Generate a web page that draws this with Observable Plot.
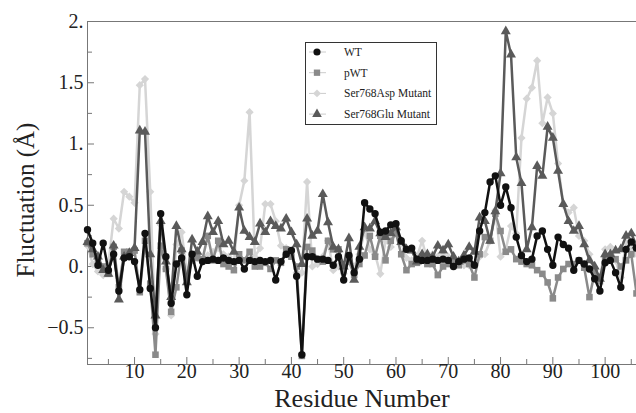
<!DOCTYPE html>
<html><head><meta charset="utf-8">
<script src="https://cdn.jsdelivr.net/npm/d3@7"></script>
<script src="https://cdn.jsdelivr.net/npm/@observablehq/plot@0.6"></script>
<style>body{margin:0;background:#fff} #chart{position:relative;width:636px;height:413px;overflow:hidden}</style>
</head><body><div id="chart"></div>
<script>
const residues = d3.range(1, 107);
const seriesNames = ["WT", "pWT", "Ser768Asp Mutant", "Ser768Glu Mutant"];
const wt = [0.30,0.19,0.01,0.19,-0.03,0.10,-0.20,0.07,0.08,0.04,
 -0.19,0.27,-0.18,-0.50,0.43,0.08,-0.30,0.02,0.07,-0.23,
 0.10,-0.08,0.04,0.05,0.06,0.05,0.07,0.05,0.04,0.05,
 -0.02,0.05,0.04,0.05,0.04,0.05,-0.11,0.04,0.10,0.13,
 -0.08,-0.72,0.08,0.08,0.06,0.06,0.05,0.01,0.08,-0.11,
 0.09,-0.05,0.06,0.52,0.47,0.43,0.28,0.29,0.34,0.35,
 0.21,0.14,0.15,0.06,0.05,0.05,0.06,0.05,0.06,0.05,
 0.00,0.04,0.06,0.07,0.01,0.29,0.44,0.69,0.74,0.50,
 0.65,0.48,0.24,0.09,0.04,0.06,0.25,0.29,0.14,0.01,
 0.24,0.18,0.15,-0.03,0.05,0.02,-0.02,-0.10,-0.20,0.03,
 0.05,-0.05,-0.17,0.14,0.20,0.15];
const pwt = [0.19,0.10,0.06,0.00,-0.06,0.16,-0.17,0.12,0.12,0.13,
 -0.21,0.21,-0.14,-0.72,0.17,-0.02,-0.37,-0.17,0.13,-0.11,
 0.05,0.07,0.06,0.25,0.05,0.21,0.02,0.00,-0.03,0.10,
 0.05,0.12,0.00,0.00,0.03,-0.02,0.05,0.03,0.14,0.08,
 0.00,-0.73,0.16,0.13,0.06,0.04,0.21,0.14,0.14,-0.03,
 0.04,-0.07,0.02,0.09,0.25,0.08,0.25,0.05,0.21,0.27,
 0.10,-0.03,0.02,0.03,0.08,0.02,0.02,-0.07,0.00,0.02,
 0.05,0.01,0.05,0.02,-0.09,0.10,0.24,0.21,0.43,0.29,
 0.12,0.14,0.06,0.04,0.02,0.01,-0.03,-0.06,-0.13,-0.26,
 -0.09,-0.02,0.02,0.02,0.05,-0.01,-0.25,-0.05,-0.12,0.05,
 0.07,0.06,0.00,0.05,0.10,-0.22];
const asp = [0.17,0.02,-0.04,-0.07,0.02,0.39,0.31,0.61,0.57,0.52,
 1.48,1.53,0.61,-0.55,0.34,-0.02,-0.40,0.18,0.28,-0.05,
 0.08,0.07,0.05,0.09,0.12,0.15,0.10,0.08,0.03,0.50,
 0.70,1.26,0.08,0.15,0.51,0.51,0.37,0.17,0.15,0.12,
 -0.05,-0.05,0.69,0.00,0.02,0.08,0.21,-0.03,0.00,-0.06,
 0.05,0.00,0.10,0.29,0.14,0.10,-0.06,0.21,0.16,0.29,
 0.20,0.07,0.05,0.08,0.21,0.05,0.10,0.08,0.09,0.08,
 0.05,0.02,0.01,0.01,0.02,0.08,0.10,0.21,0.46,0.08,
 0.14,0.33,0.27,1.05,1.37,1.46,1.68,1.17,1.38,1.25,
 0.84,0.50,0.44,0.48,0.25,0.21,0.10,-0.03,-0.09,0.14,
 0.16,0.05,-0.09,0.20,0.14,0.10];
const glu = [0.20,0.14,0.08,-0.03,-0.06,0.17,-0.27,0.08,0.11,0.15,
 1.11,1.10,0.10,-0.40,0.37,0.04,-0.25,0.33,0.14,-0.13,
 0.22,0.12,0.20,0.41,0.28,0.37,0.18,0.21,0.12,0.48,
 0.29,0.24,0.20,0.35,0.28,0.37,0.33,0.31,0.39,0.28,
 0.18,0.02,0.39,0.25,0.29,0.59,0.36,0.16,0.14,0.00,
 0.23,-0.11,0.16,0.32,0.31,0.37,0.27,0.24,0.27,0.32,
 0.20,0.14,0.13,0.04,0.10,0.10,0.08,0.17,0.13,0.18,
 0.08,0.04,0.09,0.16,0.12,0.40,0.37,0.21,0.45,0.76,
 1.92,1.73,0.89,0.68,0.14,0.32,0.82,0.74,1.14,1.05,
 0.78,0.51,0.37,0.29,0.33,0.18,0.05,0.00,-0.10,0.10,
 0.10,0.13,0.14,0.25,0.27,0.17];
const yTicks = [-0.5, 0, 0.5, 1, 1.5, 2];
const yTickLabels = ["\u22120.5", "0.", "0.5", "1.", "1.5", "2."];
const yMinorTicks = [-0.75, -0.25, 0.25, 0.75, 1.25, 1.75];
const xTicks = [10, 20, 30, 40, 50, 60, 70, 80, 90, 100];
const xMinorTicks = [5, 15, 25, 35, 45, 55, 65, 75, 85, 95, 105];
const xLabel = "Residue Number";
const yLabel = "Fluctuation (\u00C5)";

const colors = {"WT": "#111111", "pWT": "#8a8a8a", "Ser768Asp Mutant": "#d5d5d5", "Ser768Glu Mutant": "#5a5a5a"};
const symbols = {"WT": "circle", "pWT": "square", "Ser768Asp Mutant": "diamond2", "Ser768Glu Mutant": "triangle"};
const values = [wt, pwt, asp, glu];
const table = seriesNames.flatMap((s, k) => residues.map((r, i) => ({residue: r, value: values[k][i], series: s})));
const drawOrder = ["Ser768Asp Mutant", "pWT", "Ser768Glu Mutant", "WT"];

const seriesMarks = drawOrder.flatMap(s => {
  const d = table.filter(t => t.series === s);
  return [
    Plot.line(d, {x: "residue", y: "value", stroke: colors[s], strokeWidth: 2.5}),
    Plot.dot(d, {x: "residue", y: "value", fill: colors[s], symbol: () => symbols[s], r: 3.7, stroke: "none"})
  ];
});

const plot = Plot.plot({
  width: 636, height: 413,
  marginLeft: 87, marginRight: 0, marginTop: 21, marginBottom: 49,
  style: {fontFamily: "'Liberation Serif', 'Times New Roman', serif", fontSize: "20px", color: "#222", background: "#fff"},
  x: {domain: [1, 106]},
  y: {domain: [-0.8, 2]},
  symbol: {type: "identity"},
  marks: [
    Plot.frame({anchor: "left", stroke: "#777"}),
    Plot.frame({anchor: "bottom", stroke: "#777"}),
    Plot.frame({anchor: "top", stroke: "#777"}),
    Plot.axisY(yMinorTicks, {tickSize: -5, text: null, stroke: "#777", label: null}),
    Plot.axisY(yTicks, {tickSize: -7, tickPadding: 11, stroke: "#777", tickFormat: d => yTickLabels[yTicks.indexOf(d)], label: null, fontSize: 20}),
    Plot.axisX(xMinorTicks, {tickSize: -5, text: null, stroke: "#777", label: null}),
    Plot.axisX(xTicks, {tickSize: -7, tickPadding: 6, stroke: "#777", label: null, fontSize: 20}),
    Plot.text([xLabel], {frameAnchor: "bottom", textAnchor: "middle", lineAnchor: "bottom", dy: 42, fontSize: 26, fill: "#222"}),
    Plot.text([yLabel], {frameAnchor: "left", textAnchor: "middle", lineAnchor: "middle", rotate: -90, dx: -62, dy: 7, fontSize: 25, fill: "#222"}),
    ...seriesMarks
  ]
});
document.getElementById("chart").appendChild(plot);

// legend box inside the plot
const svg = d3.select(plot);
const lg = svg.append("g").attr("font-family", "'Liberation Serif', 'Times New Roman', serif").attr("text-anchor", "start");
lg.append("rect").attr("x", 305.5).attr("y", 42.5).attr("width", 131).attr("height", 82)
  .attr("fill", "#fff").attr("stroke", "#333").attr("stroke-width", 1);
const symMap = {"circle": d3.symbolCircle, "square": d3.symbolSquare, "diamond2": d3.symbolDiamond2, "triangle": d3.symbolTriangle};
seriesNames.forEach((s, i) => {
  const yy = 52 + i * 20.7;
  lg.append("line").attr("x1", 309).attr("x2", 326).attr("y1", yy).attr("y2", yy).attr("stroke", "#ccc").attr("stroke-width", 1);
  lg.append("path").attr("d", d3.symbol(symMap[symbols[s]], 40)()).attr("transform", `translate(317,${yy})`).attr("fill", colors[s]);
  lg.append("text").attr("x", 344).attr("y", yy).attr("dy", "0.35em").attr("font-size", 11.5).attr("fill", "#222").attr("text-anchor", "start").text(s);
});
</script>
</body></html>
